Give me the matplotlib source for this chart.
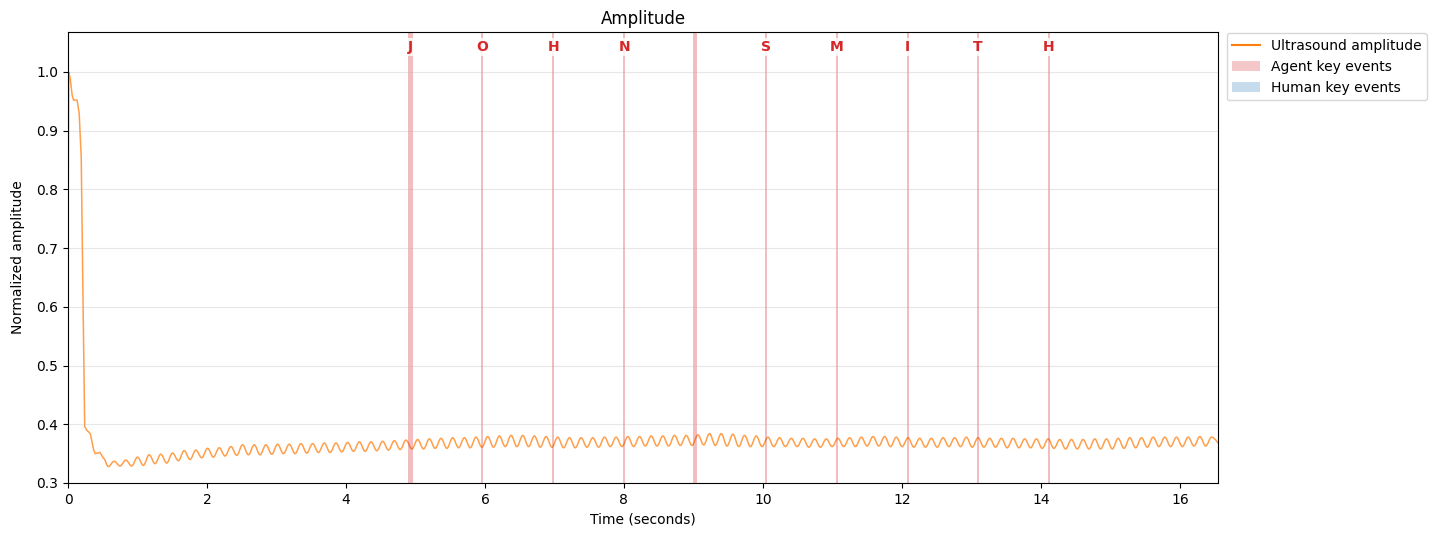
import numpy as np
import matplotlib.pyplot as plt
from matplotlib.patches import Patch, PathPatch
from matplotlib.path import Path
from matplotlib.lines import Line2D
import matplotlib.transforms as mtransforms

# start of the recording (time s, normalized amplitude)
start_t = [0.0, 0.01, 0.03, 0.06, 0.08, 0.13, 0.16, 0.19, 0.215, 0.24, 0.27, 0.32, 0.37, 0.39, 0.46, 0.51]
start_v = [0.70, 1.0, 0.99, 0.96, 0.952, 0.952, 0.93, 0.855, 0.62, 0.396, 0.39, 0.384, 0.356, 0.350, 0.352, 0.342]

# steady part: one trough and one peak per ripple cycle
first_trough = 0.58
ripple_period = 0.168
troughs = [0.328, 0.329, 0.329, 0.330, 0.333, 0.334, 0.338, 0.340, 0.343, 0.344, 0.346, 0.347,
           0.348, 0.348, 0.349, 0.350, 0.350, 0.351, 0.352, 0.352, 0.353, 0.354, 0.354, 0.355, 0.356, 0.357,
           0.358, 0.358, 0.359, 0.359, 0.360, 0.360, 0.361, 0.361, 0.362, 0.362, 0.362, 0.361, 0.361, 0.360, 0.360,
           0.361, 0.361, 0.362, 0.362, 0.362, 0.363, 0.363, 0.363, 0.364, 0.364, 0.365, 0.364, 0.363, 0.362, 0.362,
           0.362, 0.362, 0.362, 0.362, 0.361, 0.361, 0.362, 0.362, 0.362, 0.363,
           0.363, 0.362, 0.362, 0.361, 0.361, 0.361, 0.362, 0.362, 0.361, 0.361,
           0.361, 0.360, 0.360, 0.360, 0.359, 0.359, 0.358, 0.358, 0.358, 0.358,
           0.358, 0.359, 0.360, 0.361, 0.362, 0.362, 0.362, 0.363, 0.363]
peaks = [0.337, 0.339, 0.344, 0.348, 0.349, 0.351, 0.355, 0.356, 0.359, 0.360, 0.362, 0.365,
         0.365, 0.365, 0.366, 0.366, 0.367, 0.367, 0.368, 0.368, 0.369, 0.370, 0.370, 0.371, 0.372, 0.373,
         0.374, 0.375, 0.376, 0.377, 0.377, 0.378, 0.379, 0.380, 0.381, 0.381, 0.380, 0.379, 0.378, 0.377, 0.377,
         0.377, 0.378, 0.378, 0.379, 0.379, 0.380, 0.380, 0.381, 0.381, 0.382, 0.384, 0.384, 0.383, 0.381, 0.380,
         0.378, 0.377, 0.376, 0.376, 0.375, 0.375, 0.376, 0.377, 0.378, 0.379,
         0.379, 0.378, 0.377, 0.376, 0.376, 0.377, 0.377, 0.378, 0.377, 0.376,
         0.376, 0.376, 0.375, 0.375, 0.375, 0.374, 0.374, 0.374, 0.375, 0.375,
         0.376, 0.377, 0.377, 0.378, 0.378, 0.378, 0.378, 0.379, 0.378]
end_t = 16.62
end_v = 0.362

# agent key presses (down, up) in seconds
agent_keys = ['J', 'O', 'H', 'N', ' ', 'S', 'M', 'I', 'T', 'H']
agent_down = [4.89, 5.94, 6.97, 7.99, 9.00, 10.03, 11.045, 12.07, 13.075, 14.10]
agent_up = [4.96, 5.975, 7.00, 8.015, 9.045, 10.055, 11.08, 12.10, 13.105, 14.135]
human_down = []
human_up = []

# ripple extremes in time order
n = len(troughs)
t_tr = first_trough + ripple_period * np.arange(n)
t_pk = t_tr + ripple_period / 2
wave_t = np.concatenate([np.column_stack([t_tr, t_pk]).ravel(), [end_t]])
wave_v = np.concatenate([np.column_stack([troughs, peaks]).ravel(), [end_v]])

fig = plt.figure(figsize=(14.32, 5.4), dpi=100)
ax = fig.add_axes([0.0475, 0.1056, 0.8031, 0.8351])

# straight segments for the start, smooth arcs (flat at every extreme) for the ripple
verts = [(start_t[0], start_v[0])]
codes = [Path.MOVETO]
for x, y in zip(start_t[1:], start_v[1:]):
    verts.append((x, y))
    codes.append(Path.LINETO)
px, py = start_t[-1], start_v[-1]
for x, y in zip(wave_t, wave_v):
    h = x - px
    verts += [(px + 0.36 * h, py), (x - 0.36 * h, y), (x, y)]
    codes += [Path.CURVE4] * 3
    px, py = x, y
ax.add_patch(PathPatch(Path(verts, codes), facecolor='none', edgecolor='#ff7f0e',
                       lw=1.1, alpha=0.75))

trans = mtransforms.blended_transform_factory(ax.transData, ax.transAxes)
for k, d, u in zip(agent_keys, agent_down, agent_up):
    ax.axvspan(d, u, color='#d62728', alpha=0.3, lw=0)
    if k.strip():
        ax.text((d + u) / 2, 0.967, k, transform=trans, ha='center', va='center',
                color='#d62728', fontsize=10, fontweight='bold',
                bbox=dict(facecolor='white', edgecolor='none', alpha=0.8, pad=1.5))
for d, u in zip(human_down, human_up):
    ax.axvspan(d, u, color='#1f77b4', alpha=0.25, lw=0)

ax.set_xlim(0, 16.55)
ax.set_ylim(0.3, 1.068)
ax.set_yticks(np.arange(0.3, 1.01, 0.1))
ax.grid(axis='y', alpha=0.3)
ax.set_title('Amplitude', fontsize=12)
ax.set_xlabel('Time (seconds)')
ax.set_ylabel('Normalized amplitude', labelpad=8)

handles = [Line2D([0], [0], color='#ff7f0e', lw=1.5),
           Patch(facecolor='#d62728', alpha=0.25),
           Patch(facecolor='#1f77b4', alpha=0.25)]
ax.legend(handles, ['Ultrasound amplitude', 'Agent key events', 'Human key events'],
          loc='upper left', bbox_to_anchor=(1.005, 1.003), borderaxespad=0.2)

fig.savefig('out.png', dpi=100)
